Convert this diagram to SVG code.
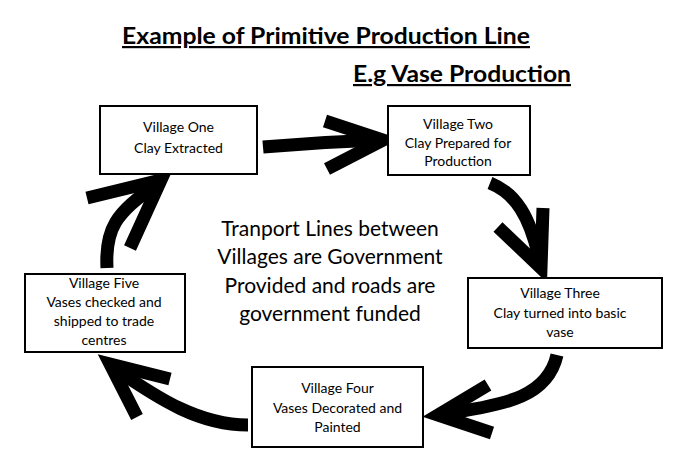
<svg xmlns="http://www.w3.org/2000/svg" width="678" height="475" viewBox="0 0 678 475">
<style>
.bg{fill:#fff}
.box{fill:#fff;stroke:#000;stroke-width:2}
.t{font-family:Lato,"Open Sans","Liberation Sans",sans-serif;font-size:14px;fill:#000;text-anchor:middle}
.c{font-family:Lato,"Open Sans","Liberation Sans",sans-serif;font-size:21px;fill:#000;text-anchor:middle}
.h{font-family:Lato,"Open Sans","Liberation Sans",sans-serif;font-size:22px;font-weight:bold;fill:#000;text-decoration:underline}
.a{fill:none;stroke:#000;stroke-width:13;stroke-linecap:butt;stroke-linejoin:miter;stroke-miterlimit:10}
</style>
<rect class="bg" x="0" y="0" width="678" height="475"/>
<g id="title">
<text class="h" x="122" y="44" textLength="408" lengthAdjust="spacingAndGlyphs">Example of Primitive Production Line</text>
<text class="h" x="353" y="82" textLength="218" lengthAdjust="spacingAndGlyphs">E.g Vase Production</text>
</g>
<g id="connectors">
<path class="a" d="M263,147 Q320,142 378,140"/>
<polyline class="a" points="325,121 383,140 327,169"/>
<path class="a" d="M490,183 C515,193 530,215 540,262"/>
<polyline class="a" points="498,227 541,268 543,208"/>
<path class="a" d="M557,355 C548,395 510,405 442,414"/>
<polyline class="a" points="488,385 438,415 492,433"/>
<path class="a" d="M248,425 C200,425 160,400 114,368"/>
<polyline class="a" points="170,379 110,364 137,417"/>
<path class="a" d="M107,268 C105,230 115,212 158,184"/>
<polyline class="a" points="87,198 161,180 130,248"/>
</g>
<g id="village-one">
<rect class="box" x="100" y="106" width="157" height="68"/>
<text class="t" x="178.5" y="132">Village One</text>
<text class="t" x="178.5" y="153">Clay Extracted</text>
</g>
<g id="village-two">
<rect class="box" x="388" y="106" width="142" height="69"/>
<text class="t" x="458" y="129">Village Two</text>
<text class="t" x="458" y="148">Clay Prepared for</text>
<text class="t" x="458" y="166">Production</text>
</g>
<g id="village-three">
<rect class="box" x="468" y="278" width="194" height="70"/>
<text class="t" x="560" y="298">Village Three</text>
<text class="t" x="560" y="318">Clay turned into basic</text>
<text class="t" x="560" y="337">vase</text>
</g>
<g id="village-four">
<rect class="box" x="252" y="367" width="171" height="80"/>
<text class="t" x="337.5" y="393">Village Four</text>
<text class="t" x="337.5" y="413">Vases Decorated and</text>
<text class="t" x="337.5" y="432">Painted</text>
</g>
<g id="village-five">
<rect class="box" x="25" y="274" width="160" height="78"/>
<text class="t" x="104" y="288">Village Five</text>
<text class="t" x="104" y="307">Vases checked and</text>
<text class="t" x="104" y="326">shipped to trade</text>
<text class="t" x="104" y="345">centres</text>
</g>
<g id="note">
<text class="c" x="330" y="236">Tranport Lines between</text>
<text class="c" x="330" y="264">Villages are Government</text>
<text class="c" x="330" y="293">Provided and roads are</text>
<text class="c" x="330" y="321">government funded</text>
</g>
</svg>
